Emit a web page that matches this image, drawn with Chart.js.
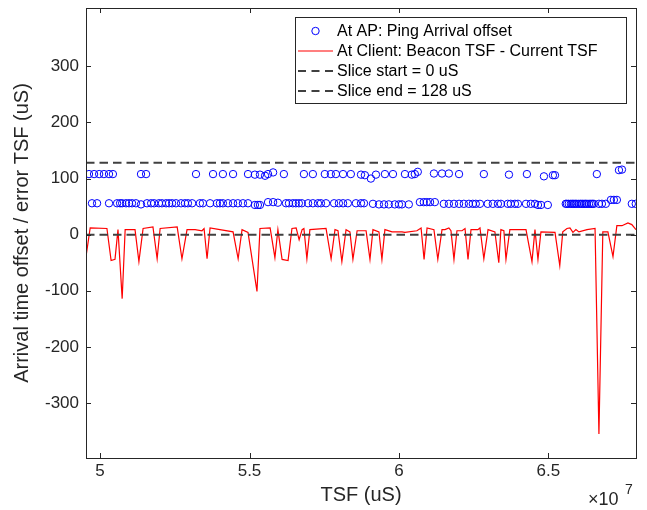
<!DOCTYPE html>
<html>
<head>
<meta charset="utf-8">
<script src="https://cdn.jsdelivr.net/npm/chart.js@4.4.1/dist/chart.umd.min.js"></script>
<style>
  body { margin: 0; background: #fff; }
  canvas { display: block; }
</style>
</head>
<body>
<canvas id="tsfChart" width="647" height="510"></canvas>
<script>
  // TSF values are in units of 1e7 uS (axis shows x10^7)
  const xRange = [4.953, 6.793];
  const yRange = [-398, 404];
  const xTicks = [5, 5.5, 6, 6.5];
  const yTicks = [-300, -200, -100, 0, 100, 200, 300];

  const sliceStart = 0;
  const sliceEnd = 128;

  const legendLabels = [
    "At AP: Ping Arrival offset",
    "At Client: Beacon TSF - Current TSF",
    "Slice start = 0 uS",
    "Slice end = 128 uS"
  ];

  // At AP: ping arrival offset (upper band then lower band)
  const apTsf = [
    4.963, 4.980, 4.997, 5.013, 5.030, 5.043, 5.137, 5.154, 5.321, 5.378,
    5.411, 5.445, 5.495, 5.518, 5.535, 5.552, 5.562, 5.579, 5.615, 5.682,
    5.712, 5.752, 5.772, 5.789, 5.813, 5.839, 5.873, 5.886, 5.906, 5.923,
    5.953, 5.980, 6.020, 6.043, 6.053, 6.063, 6.117, 6.144, 6.167, 6.201,
    6.284, 6.368, 6.428, 6.485, 6.515, 6.522, 6.662, 6.736, 6.746,
    4.973, 4.990, 5.030, 5.057, 5.067, 5.074, 5.087, 5.097, 5.107, 5.120,
    5.137, 5.157, 5.171, 5.181, 5.197, 5.207, 5.221, 5.231, 5.241, 5.254,
    5.271, 5.284, 5.294, 5.308, 5.334, 5.344, 5.368, 5.391, 5.401, 5.411,
    5.428, 5.445, 5.461, 5.478, 5.495, 5.518, 5.528, 5.535, 5.562, 5.579,
    5.595, 5.622, 5.632, 5.645, 5.655, 5.665, 5.675, 5.696, 5.712, 5.729,
    5.739, 5.756, 5.783, 5.799, 5.813, 5.829, 5.856, 5.873, 5.883, 5.913,
    5.933, 5.950, 5.966, 5.986, 6.000, 6.010, 6.033, 6.070, 6.083, 6.093,
    6.104, 6.120, 6.150, 6.167, 6.184, 6.201, 6.217, 6.234, 6.247, 6.257,
    6.271, 6.297, 6.314, 6.331, 6.341, 6.364, 6.374, 6.388, 6.398, 6.425,
    6.441, 6.455, 6.465, 6.475, 6.498, 6.558, 6.562, 6.568, 6.575, 6.580,
    6.585, 6.590, 6.595, 6.602, 6.608, 6.613, 6.619, 6.624, 6.629, 6.636,
    6.642, 6.647, 6.652, 6.669, 6.679, 6.692, 6.709, 6.719, 6.729, 6.779,
    6.792
  ];
  const apOffset = [
    108, 108, 108, 108, 108, 108, 108, 108, 108, 108,
    108, 108, 108, 107, 107, 105, 108, 111, 108, 108,
    108, 108, 108, 108, 108, 108, 107, 106, 100, 107,
    108, 108, 108, 107, 108, 112, 109, 109, 109, 108,
    108, 107, 108, 104, 106, 106, 108, 115, 116,
    56, 56, 56, 56, 56, 56, 56, 56, 56, 56,
    54, 56, 56, 56, 56, 56, 56, 56, 56, 56,
    56, 56, 56, 56, 56, 56, 56, 56, 56, 56,
    56, 56, 56, 56, 56, 53, 53, 53, 58, 58,
    57, 56, 56, 56, 56, 56, 56, 56, 56, 56,
    56, 56, 56, 56, 56, 56, 56, 56, 56, 55,
    54, 54, 54, 54, 54, 54, 54, 58, 58, 58,
    58, 58, 55, 55, 55, 55, 55, 55, 55, 55,
    55, 55, 55, 55, 55, 55, 55, 55, 55, 55,
    55, 55, 53, 53, 53, 55, 55, 55, 55, 55,
    55, 55, 55, 55, 55, 55, 55, 55, 55, 55,
    55, 55, 55, 55, 55, 55, 62, 62, 62, 55,
    55
  ];

  // At client: beacon TSF - current TSF
  const clientTsf = [
    4.953, 4.967, 5.023, 5.037, 5.050, 5.060, 5.074, 5.084, 5.117, 5.130,
    5.144, 5.177, 5.191, 5.201, 5.258, 5.274, 5.291, 5.318, 5.341, 5.348,
    5.358, 5.368, 5.401, 5.445, 5.462, 5.475, 5.495, 5.525, 5.535, 5.569,
    5.585, 5.595, 5.609, 5.629, 5.642, 5.656, 5.666, 5.676, 5.682, 5.692,
    5.702, 5.756, 5.773, 5.786, 5.796, 5.809, 5.823, 5.836, 5.846, 5.860,
    5.890, 5.903, 5.913, 5.933, 5.943, 5.953, 5.977, 6.010, 6.020, 6.060,
    6.074, 6.084, 6.094, 6.117, 6.130, 6.144, 6.154, 6.167, 6.174, 6.184,
    6.194, 6.211, 6.221, 6.231, 6.241, 6.264, 6.271, 6.284, 6.298, 6.321,
    6.334, 6.341, 6.351, 6.358, 6.371, 6.425, 6.445, 6.455, 6.465, 6.475,
    6.522, 6.538, 6.548, 6.562, 6.572, 6.582, 6.592, 6.602, 6.629, 6.656,
    6.669, 6.682, 6.699, 6.716, 6.729, 6.746, 6.766, 6.779, 6.793
  ];
  const clientErr = [
    -39, 12, 11, -46, -44, 9, -114, 9, 9, -48,
    11, 14, -43, 11, 14, -43, 9, 9, 7, 11,
    -43, 12, 9, 5, -43, 9, 4, -101, 11, 12,
    -41, 9, -44, -46, 11, 12, -9, 9, 11, -43,
    9, 11, -43, 9, 7, -48, 9, 5, -44, 7,
    7, -44, 9, 5, -44, 9, 5, 5, 4, 7,
    12, -44, 12, 9, -44, 9, 9, 12, 7, -44,
    7, 7, 11, -44, 9, 9, 12, -43, 9, 5,
    -50, 9, 7, -44, 9, 9, -48, 9, -44, 5,
    4, -55, 5, 11, 12, 4, 9, 5, 9, 11,
    -355, 5, 5, -39, 16, 16, 21, 18, 9
  ];

  const FONT = "'Liberation Sans', Arial, sans-serif";
  const AXIS_COLOR = "#262626";
  const DASH_COLOR = "#404040";

  const hLine = (y) => [{ x: xRange[0], y: y }, { x: xRange[1], y: y }];

  // box, inward tick marks, legend and the x10^7 exponent
  const matlabAxesPlugin = {
    id: 'matlabAxes',
    afterDraw(chart) {
      const { ctx, chartArea, scales } = chart;
      const { left, right, top, bottom } = chartArea;
      ctx.save();

      ctx.strokeStyle = AXIS_COLOR;
      ctx.lineWidth = 1;
      ctx.setLineDash([]);
      ctx.strokeRect(left + 0.5, top + 0.5, right - left, bottom - top);

      const tl = 5;
      ctx.beginPath();
      for (const v of xTicks) {
        const x = Math.round(scales.x.getPixelForValue(v)) + 0.5;
        ctx.moveTo(x, bottom); ctx.lineTo(x, bottom - tl);
        ctx.moveTo(x, top); ctx.lineTo(x, top + tl);
      }
      for (const v of yTicks) {
        const y = Math.round(scales.y.getPixelForValue(v)) + 0.5;
        ctx.moveTo(left, y); ctx.lineTo(left + tl, y);
        ctx.moveTo(right, y); ctx.lineTo(right - tl, y);
      }
      ctx.stroke();

      // exponent label
      ctx.fillStyle = AXIS_COLOR;
      ctx.textBaseline = 'alphabetic';
      ctx.textAlign = 'left';
      ctx.font = "18px " + FONT;
      ctx.fillText("\u00d710", 588, 505);
      ctx.font = "14px " + FONT;
      ctx.fillText("7", 625, 494);

      // legend
      const bx = 295, by = 17, bw = 331, bh = 86;
      ctx.fillStyle = "#ffffff";
      ctx.fillRect(bx, by, bw, bh);
      ctx.strokeStyle = AXIS_COLOR;
      ctx.lineWidth = 1;
      ctx.strokeRect(bx + 0.5, by + 0.5, bw, bh);

      const rowY = [31, 51, 71, 91];
      const sx0 = 298, sx1 = 333;
      ctx.font = "16px " + FONT;
      ctx.textBaseline = 'middle';
      legendLabels.forEach((label, i) => {
        const y = rowY[i];
        ctx.save();
        if (i === 0) {
          ctx.strokeStyle = "#0000ff";
          ctx.lineWidth = 1;
          ctx.beginPath();
          ctx.arc((sx0 + sx1) / 2, y, 3.7, 0, Math.PI * 2);
          ctx.stroke();
        } else if (i === 1) {
          ctx.strokeStyle = "#ff0000";
          ctx.lineWidth = 1.2;
          ctx.beginPath();
          ctx.moveTo(sx0, y); ctx.lineTo(sx1, y);
          ctx.stroke();
        } else {
          ctx.strokeStyle = DASH_COLOR;
          ctx.lineWidth = 2;
          ctx.setLineDash([8, 5.5]);
          ctx.beginPath();
          ctx.moveTo(sx0, y); ctx.lineTo(sx1, y);
          ctx.stroke();
        }
        ctx.restore();
        ctx.fillStyle = "#000000";
        ctx.fillText(label, 337, y + 1);
      });

      ctx.restore();
    }
  };

  new Chart(document.getElementById("tsfChart"), {
    type: 'scatter',
    data: {
      datasets: [
        {
          label: legendLabels[2],
          type: 'line',
          data: hLine(sliceStart),
          borderColor: DASH_COLOR,
          borderWidth: 2,
          borderDash: [8.5, 5],
          pointRadius: 0,
          order: 0
        },
        {
          label: legendLabels[3],
          type: 'line',
          data: hLine(sliceEnd),
          borderColor: DASH_COLOR,
          borderWidth: 2,
          borderDash: [8.5, 5],
          pointRadius: 0,
          order: 0
        },
        {
          label: legendLabels[1],
          type: 'line',
          data: clientTsf.map((x, i) => ({ x: x, y: clientErr[i] })),
          borderColor: "#ff0000",
          borderWidth: 1.2,
          pointRadius: 0,
          tension: 0,
          order: 1
        },
        {
          label: legendLabels[0],
          data: apTsf.map((x, i) => ({ x: x, y: apOffset[i] })),
          showLine: false,
          pointStyle: 'circle',
          pointRadius: 3.7,
          borderColor: "#0000ff",
          backgroundColor: "rgba(0,0,0,0)",
          borderWidth: 1,
          order: 2
        }
      ]
    },
    options: {
      responsive: false,
      animation: false,
      layout: { padding: { top: 8, right: 11, bottom: 0, left: 0 } },
      scales: {
        x: {
          type: 'linear',
          min: xRange[0],
          max: xRange[1],
          afterBuildTicks: (scale) => { scale.ticks = xTicks.map(v => ({ value: v })); },
          afterFit: (scale) => {
            scale.height = 52;
            scale.paddingLeft = 0;
            scale.paddingRight = 0;
          },
          grid: { display: false, drawTicks: false },
          border: { display: false },
          ticks: {
            color: AXIS_COLOR,
            font: { family: FONT, size: 17 },
            padding: 3,
            maxRotation: 0,
            callback: (v) => String(v)
          },
          title: {
            display: true,
            text: 'TSF (uS)',
            color: AXIS_COLOR,
            font: { family: FONT, size: 20 },
            padding: { top: 0, bottom: 3 }
          }
        },
        y: {
          type: 'linear',
          min: yRange[0],
          max: yRange[1],
          afterBuildTicks: (scale) => { scale.ticks = yTicks.map(v => ({ value: v })); },
          afterFit: (scale) => {
            scale.width = 86;
            scale.paddingTop = 0;
            scale.paddingBottom = 0;
          },
          grid: { display: false, drawTicks: false },
          border: { display: false },
          ticks: {
            color: AXIS_COLOR,
            font: { family: FONT, size: 17 },
            padding: 7,
            callback: (v) => String(v)
          },
          title: {
            display: true,
            text: 'Arrival time offset / error TSF (uS)',
            color: AXIS_COLOR,
            font: { family: FONT, size: 20 },
            padding: { top: 10, bottom: 0 }
          }
        }
      },
      plugins: {
        legend: { display: false },
        tooltip: { enabled: false }
      }
    },
    plugins: [matlabAxesPlugin]
  });
</script>
</body>
</html>
